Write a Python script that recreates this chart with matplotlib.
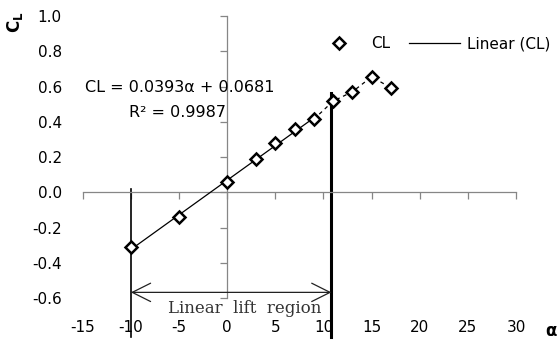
import matplotlib
matplotlib.use("Agg")
import matplotlib.pyplot as plt
from matplotlib.lines import Line2D

# lift coefficient vs angle of attack
alpha = [-10, -5, 0, 3, 5, 7, 9, 11, 13, 15, 17]
cl = [-0.313, -0.14, 0.058, 0.19, 0.278, 0.357, 0.414, 0.517, 0.57, 0.655, 0.593]

# trendline
slope = 0.0393
intercept = 0.0681
fit_range = [-10, 9]

xticks = [-15, -10, -5, 0, 5, 10, 15, 20, 25, 30]
yticks = [-0.6, -0.4, -0.2, 0.0, 0.2, 0.4, 0.6, 0.8, 1.0]
ylabels = ['%.1f' % v for v in yticks]

# linear region limits
lin_lo = -10
lin_hi = 10.83

gray = '#868686'
plt.rcParams['font.family'] = 'DejaVu Sans'
plt.rcParams['font.size'] = 11

fig = plt.figure(figsize=(5.6, 3.4), dpi=100)
ax = fig.add_axes([0.1477, 0.1235, 0.7738, 0.8294])
ax.set_xlim(-15, 30)
ax.set_ylim(-0.6, 1.0)

# axes cross at zero, labels stay at the edges
for s in ['top', 'right']:
    ax.spines[s].set_visible(False)
ax.spines['left'].set_position(('data', 0))
ax.spines['bottom'].set_position(('data', 0))
for s in ['left', 'bottom']:
    ax.spines[s].set_color(gray)
    ax.spines[s].set_linewidth(0.9)
ax.set_xticks(xticks)
ax.set_yticks(yticks)
ax.tick_params(direction='out', length=5, width=0.9, color=gray,
               labelleft=False, labelbottom=False)

secx = ax.secondary_xaxis('bottom')
secx.set_xticks(xticks, labels=[str(v) for v in xticks])
secx.spines['bottom'].set_visible(False)
secx.tick_params(length=0, pad=16, labelsize=11)
secy = ax.secondary_yaxis('left')
secy.set_yticks(yticks, labels=ylabels)
secy.spines['left'].set_visible(False)
secy.tick_params(length=0, pad=15, labelsize=11)

# trendline + dashed tail past the linear region
fx = fit_range
fy = [slope * v + intercept for v in fx]
ax.plot(fx, fy, color='black', lw=0.9, zorder=3)
i9 = alpha.index(9)
ax.plot(alpha[i9:], cl[i9:], color='black', lw=0.9, ls=(0, (3, 3)), zorder=3)
ax.plot(alpha, cl, ls='none', marker='D', ms=6.3, mfc='white', mec='black',
        mew=1.8, zorder=4)

# linear lift region markers
ax.plot([lin_lo, lin_lo], [0.02, -0.82], color='black', lw=1.2, clip_on=False)
ax.plot([lin_hi, lin_hi], [0.565, -0.82], color='black', lw=2.2, clip_on=False)
ax.annotate('', xy=(lin_lo, -0.568), xytext=(lin_hi, -0.568),
            arrowprops=dict(arrowstyle='<->,head_length=1.2,head_width=0.6',
                            color='#222222', lw=0.9, shrinkA=0, shrinkB=0))
ax.text(1.84, -0.657, 'Linear  lift  region', family='DejaVu Serif',
        fontsize=12, color='#333333', ha='center', va='center')

ax.text(-4.9, 0.595, 'CL = 0.0393α + 0.0681', ha='center', va='center',
        fontsize=11.5)
ax.text(-5.2, 0.453, 'R² = 0.9987', ha='center', va='center', fontsize=11.5)

handles = [Line2D([], [], ls='none', marker='D', ms=6.3, mfc='white',
                  mec='black', mew=1.8),
           Line2D([], [], color='black', lw=0.9)]
fig.legend(handles, ['CL', 'Linear (CL)'], ncol=2, frameon=False,
           loc='center left', bbox_to_anchor=(313 / 560, 1 - 44 / 340),
           bbox_transform=fig.transFigure, handlelength=3.4,
           handletextpad=0.4, columnspacing=1.2, borderpad=0,
           borderaxespad=0)

fig.text(15 / 560, 1 - 22 / 340, r'$\mathbf{C_L}$', rotation=90,
         fontsize=12, ha='center', va='center')
fig.text(545 / 560, 1 - 331 / 340, 'α', fontsize=12, fontweight='bold',
         ha='left', va='center')

fig.savefig('out.png', dpi=100)
